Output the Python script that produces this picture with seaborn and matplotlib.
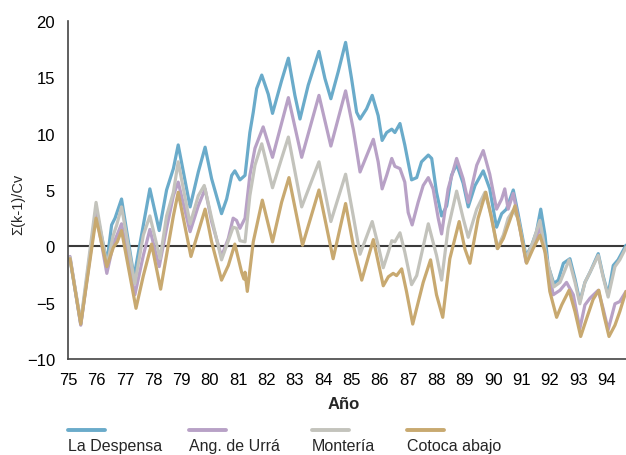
import numpy as np
import pandas as pd
import seaborn as sns
import matplotlib.pyplot as plt
from matplotlib.lines import Line2D

# cumulative deviation curves (year, value)
despensa_t = [75.06, 75.44, 75.98, 76.36, 76.53, 76.65, 76.88, 77.32, 77.65, 77.88, 78.21, 78.47, 78.71, 78.88,
              79.30, 79.59, 79.83, 80.06, 80.41, 80.59, 80.77, 80.88, 81.06, 81.24, 81.41, 81.53, 81.65, 81.83,
              82.06, 82.21, 82.53, 82.77, 83.00, 83.18, 83.47, 83.85, 84.06, 84.27, 84.53, 84.79, 85.00, 85.18,
              85.30, 85.53, 85.73, 85.94, 86.08, 86.24, 86.42, 86.53, 86.71, 86.88, 87.12, 87.30, 87.47, 87.71,
              87.83, 88.00, 88.18, 88.36, 88.53, 88.71, 88.94, 89.12, 89.36, 89.65, 89.88, 90.06, 90.12, 90.30,
              90.47, 90.71, 90.88, 91.16, 91.36, 91.53, 91.68, 91.83, 91.94, 92.14, 92.30, 92.48, 92.71, 92.89,
              93.06, 93.24, 93.42, 93.71, 93.88, 94.06, 94.24, 94.41, 94.69]
despensa_v = [-1.1, -6.9, 3.3, -1.4, 1.9, 2.5, 4.2, -2.7, 1.9, 5.1, 1.4, 5.0, 6.9, 9.0,
              3.5, 6.6, 8.8, 6.0, 2.9, 4.2, 6.3, 6.7, 5.9, 6.3, 10.1, 11.9, 14.0, 15.2,
              13.5, 11.8, 14.7, 16.7, 13.4, 11.3, 14.3, 17.3, 14.9, 13.1, 15.5, 18.1, 14.9, 11.9,
              11.3, 12.2, 13.4, 11.6, 9.4, 10.1, 10.4, 10.1, 10.9, 9.0, 5.9, 6.1, 7.5, 8.1,
              7.8, 4.8, 2.7, 3.6, 6.3, 7.3, 5.6, 3.5, 5.4, 6.7, 5.1, 2.5, 1.7, 2.9,
              3.3, 5.0, 2.9, -0.9, 0.1, 1.3, 3.3, 1.0, -1.7, -3.3, -3.0, -1.5, -1.1, -2.9,
              -4.9, -3.2, -2.3, -0.65, -2.6, -4.3, -1.7, -1.2, 0.1]

urra_t = [75.06, 75.44, 75.98, 76.36, 76.59, 76.77, 76.88, 77.35, 77.65, 77.88, 78.21, 78.47, 78.71, 78.88,
          79.30, 79.59, 79.83, 80.06, 80.41, 80.65, 80.82, 80.94, 81.06, 81.24, 81.41, 81.59, 81.88, 82.21,
          82.77, 83.24, 83.85, 84.27, 84.79, 85.06, 85.30, 85.77, 85.94, 86.08, 86.24, 86.42, 86.53, 86.71,
          86.88, 87.00, 87.14, 87.35, 87.53, 87.71, 87.88, 88.06, 88.18, 88.41, 88.71, 88.94, 89.12, 89.42,
          89.65, 89.88, 90.12, 90.30, 90.41, 90.53, 90.71, 90.88, 91.16, 91.41, 91.65, 91.89, 92.12, 92.36,
          92.59, 92.83, 93.06, 93.24, 93.42, 93.71, 93.88, 94.06, 94.30, 94.47, 94.69]
urra_v = [-0.9, -7.0, 3.0, -2.4, 0.2, 1.3, 2.0, -4.3, -0.8, 1.5, -1.8, 1.6, 4.5, 5.7,
          1.3, 3.6, 5.1, 2.2, -0.9, 0.7, 2.5, 2.3, 1.6, 2.5, 6.3, 8.7, 10.6, 7.9,
          13.2, 7.9, 13.4, 8.9, 13.8, 10.4, 6.6, 9.5, 7.5, 5.1, 6.3, 7.8, 7.1, 6.9,
          5.7, 3.0, 1.9, 3.9, 5.4, 6.1, 5.1, 2.5, 1.1, 5.1, 7.8, 6.0, 3.9, 7.2,
          8.5, 6.4, 3.3, 4.2, 5.1, 3.3, 4.7, 2.5, -1.4, 0.1, 1.7, -1.1, -4.3, -3.9,
          -3.2, -4.3, -7.3, -5.2, -4.6, -3.9, -5.5, -7.4, -5.1, -4.9, -4.0]

monteria_t = [75.06, 75.44, 75.98, 76.36, 76.59, 76.71, 76.88, 77.35, 77.65, 77.88, 78.24, 78.47, 78.71, 78.88,
              79.30, 79.59, 79.80, 80.06, 80.41, 80.65, 80.82, 80.94, 81.06, 81.24, 81.41, 81.59, 81.83, 82.21,
              82.53, 82.77, 83.24, 83.85, 84.27, 84.79, 85.06, 85.30, 85.73, 85.94, 86.12, 86.30, 86.42, 86.53,
              86.71, 86.88, 87.12, 87.30, 87.71, 88.00, 88.18, 88.41, 88.71, 88.94, 89.12, 89.42, 89.71, 89.94,
              90.14, 90.36, 90.53, 90.71, 90.88, 91.16, 91.41, 91.65, 91.89, 92.14, 92.36, 92.68, 92.89, 93.06,
              93.24, 93.48, 93.71, 93.88, 94.06, 94.30, 94.47, 94.69]
monteria_v = [-1.0, -6.7, 3.9, -1.7, 1.0, 1.9, 3.5, -3.3, 1.0, 2.7, -1.1, 2.7, 4.8, 7.5,
              2.0, 4.5, 5.4, 2.5, -1.2, 0.5, 1.7, 1.6, 0.5, 0.4, 4.5, 7.2, 9.1, 5.2,
              7.8, 9.7, 3.5, 7.5, 2.2, 6.4, 2.7, -0.7, 2.2, 0.1, -1.9, -0.5, 0.5, 0.4,
              1.2, -0.5, -3.4, -2.6, 2.0, -0.8, -3.0, 1.6, 4.9, 2.5, 0.8, 3.3, 4.8, 2.7,
              -0.2, 1.0, 2.5, 3.2, 2.5, -1.1, 0.4, 2.3, -1.1, -3.6, -3.2, -1.2, -3.2, -5.1,
              -3.2, -2.0, -0.8, -2.7, -4.5, -1.8, -1.2, -0.1]

cotoca_t = [75.06, 75.44, 75.98, 76.36, 76.59, 76.73, 76.88, 77.39, 77.65, 77.94, 78.26, 78.53, 78.71, 78.88,
            79.33, 79.83, 80.06, 80.41, 80.65, 80.88, 81.12, 81.20, 81.24, 81.32, 81.53, 81.85, 82.21, 82.53,
            82.79, 83.27, 83.85, 84.35, 84.79, 85.06, 85.36, 85.77, 86.12, 86.30, 86.47, 86.59, 86.77, 86.94,
            87.16, 87.53, 87.79, 88.00, 88.22, 88.47, 88.80, 89.00, 89.18, 89.47, 89.74, 89.94, 90.16, 90.36,
            90.53, 90.77, 90.94, 91.18, 91.41, 91.65, 91.83, 92.00, 92.24, 92.42, 92.68, 92.89, 93.09, 93.30,
            93.53, 93.73, 93.91, 94.09, 94.30, 94.47, 94.69]
cotoca_v = [-1.1, -6.9, 2.5, -1.8, -0.1, 0.4, 1.4, -5.5, -2.6, 0.2, -3.8, 0.1, 2.7, 4.8,
            -0.9, 3.3, 0.4, -3.0, -1.7, 0.2, -2.3, -2.9, -2.3, -4.0, 0.4, 4.1, 0.4, 3.9,
            6.1, 0.1, 5.0, -1.1, 3.8, 0.1, -3.0, 0.6, -3.5, -2.7, -2.4, -2.6, -2.0, -4.0,
            -6.9, -3.2, -1.2, -4.3, -6.3, -1.1, 2.2, -0.2, -1.5, 2.5, 4.8, 2.5, -0.2, 0.7,
            1.9, 3.6, 1.6, -1.5, -0.2, 1.0, -0.5, -4.0, -6.3, -5.2, -3.9, -5.8, -8.0, -6.4,
            -4.7, -3.9, -6.1, -8.0, -7.0, -5.8, -4.0]

stations = ["La Despensa", "Ang. de Urrá", "Montería", "Cotoca abajo"]
colors = ["#6aabca", "#b8a1c6", "#c3c3bc", "#c8a970"]
x_ticks = list(range(75, 95))
y_ticks = [-10, -5, 0, 5, 10, 15, 20]

series = [(despensa_t, despensa_v), (urra_t, urra_v), (monteria_t, monteria_v), (cotoca_t, cotoca_v)]
frames = []
for name, (t, v) in zip(stations, series):
    frames.append(pd.DataFrame({"year": t, "value": v, "station": name}))
df = pd.concat(frames, ignore_index=True)

sns.set_style("white")
plt.rcParams["font.family"] = ["Liberation Sans", "DejaVu Sans"]

fig = plt.figure(figsize=(6.26, 4.56), dpi=100)
ax = fig.add_axes([68.3 / 626, 1 - 360 / 456, 1 - 68.3 / 626, 338 / 456])

ax.axhline(0, color="#3a3a3a", lw=1.5, zorder=1)
sns.lineplot(data=df, x="year", y="value", hue="station", hue_order=stations,
             palette=colors, estimator=None, sort=True, lw=2.3, legend=False, ax=ax)
for line in ax.lines:
    line.set_solid_joinstyle("round")
    line.set_solid_capstyle("round")

ax.set_xlim(75, 94.69)
ax.set_ylim(-10, 20)
ax.set_xticks(x_ticks)
ax.set_xticklabels([str(x) for x in x_ticks])
ax.set_yticks(y_ticks)

for side in ["top", "right"]:
    ax.spines[side].set_visible(False)
for side in ["left", "bottom"]:
    ax.spines[side].set_color("#444444")
    ax.spines[side].set_linewidth(1.2)

ax.tick_params(axis="y", direction="in", length=10.5, width=1.1, color="#444444",
               pad=9.5, labelsize=12, labelcolor="black")
ax.tick_params(axis="x", length=0, pad=9.5, labelsize=12, labelcolor="black")

ax.set_xlabel("Año", fontsize=12, fontweight="bold")
ax.xaxis.set_label_coords(0.494, -0.11)
ax.set_ylabel("Σ(k-1)/Cv", fontsize=10.5)
ax.yaxis.set_label_coords(-0.078, 0.46)

# legend: colour sample above each name
leg_x = [68, 189, 312, 407]
for name, col, x0 in zip(stations, colors, leg_x):
    fig.add_artist(Line2D([x0 / 626, (x0 + 37) / 626], [1 - 431 / 456] * 2,
                          color=col, lw=2.8, transform=fig.transFigure))
    fig.text(x0 / 626, 1 - 447 / 456, name, fontsize=11.5, ha="left", va="center")

fig.savefig("out.png", dpi=100)
